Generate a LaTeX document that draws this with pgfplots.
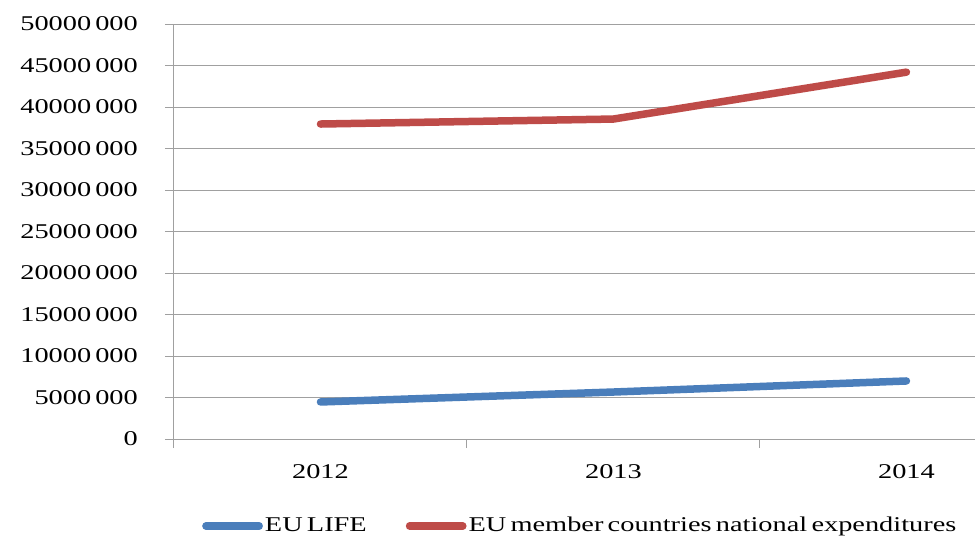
\documentclass[border=0pt]{standalone}
\usepackage{pgfplots}
\pgfplotsset{compat=1.18}
\usepackage{fontspec}
\setmainfont{Liberation Serif}[FakeStretch=1.35, WordSpace=0.6]
\definecolor{lifeblue}{RGB}{74,126,187}
\definecolor{natred}{RGB}{190,75,72}
\definecolor{gridgray}{RGB}{160,160,160}
\def\s{\hspace{4pt}}
\begin{document}
\fontsize{21pt}{25pt}\selectfont
\begin{tikzpicture}
\begin{axis}[
    at={(0pt,0pt)}, anchor=south west,
    scale only axis, width=801pt, height=415pt,
    xmin=-0.5, xmax=2.234, ymin=0, ymax=50000000,
    axis x line*=bottom, axis y line*=left,
    axis line style={gridgray, line width=1pt, -},
    tick align=outside, major tick length=9pt,
    tick style={gridgray, line width=1pt},
    xtick={-0.5,0.5,1.5}, xticklabels={},
    extra x ticks={0,1,2},
    extra x tick labels={2012,2013,2014},
    extra x tick style={major tick length=0pt},
    xticklabel style={yshift=-18pt},
    yticklabel style={xshift=-20pt},
    ytick={0,5000000,10000000,15000000,20000000,25000000,30000000,35000000,40000000,45000000,50000000},
    yticklabels={0,5000\s000,10000\s000,15000\s000,20000\s000,25000\s000,30000\s000,35000\s000,40000\s000,45000\s000,50000\s000},
    scaled y ticks=false,
    ymajorgrids, grid style={gridgray, line width=1pt},
    /pgf/number format/assume math mode=true,
    legend columns=2,
    legend style={at={(0.0312,-0.2096)}, anchor=west, draw=none, fill=none,
        font=\fontsize{21pt}{25pt}\selectfont,
        /tikz/every even column/.append style={column sep=37pt}},
    legend image code/.code={\draw[#1, line cap=round] (3.75pt,0pt) -- (57pt,0pt);},
]
\addplot[lifeblue, line width=7.5pt, line cap=round, line join=round]
    coordinates {(0,4460000) (1,5660000) (2,6990000)};
\addlegendentry{EU LIFE}
\addplot[natred, line width=7.5pt, line cap=round, line join=round]
    coordinates {(0,37950000) (1,38550000) (2,44200000)};
\addlegendentry{EU member countries national expenditures}
\end{axis}
\pgfresetboundingbox
\path (-174pt,-102pt) rectangle (804pt,439pt);
\end{tikzpicture}
\end{document}
